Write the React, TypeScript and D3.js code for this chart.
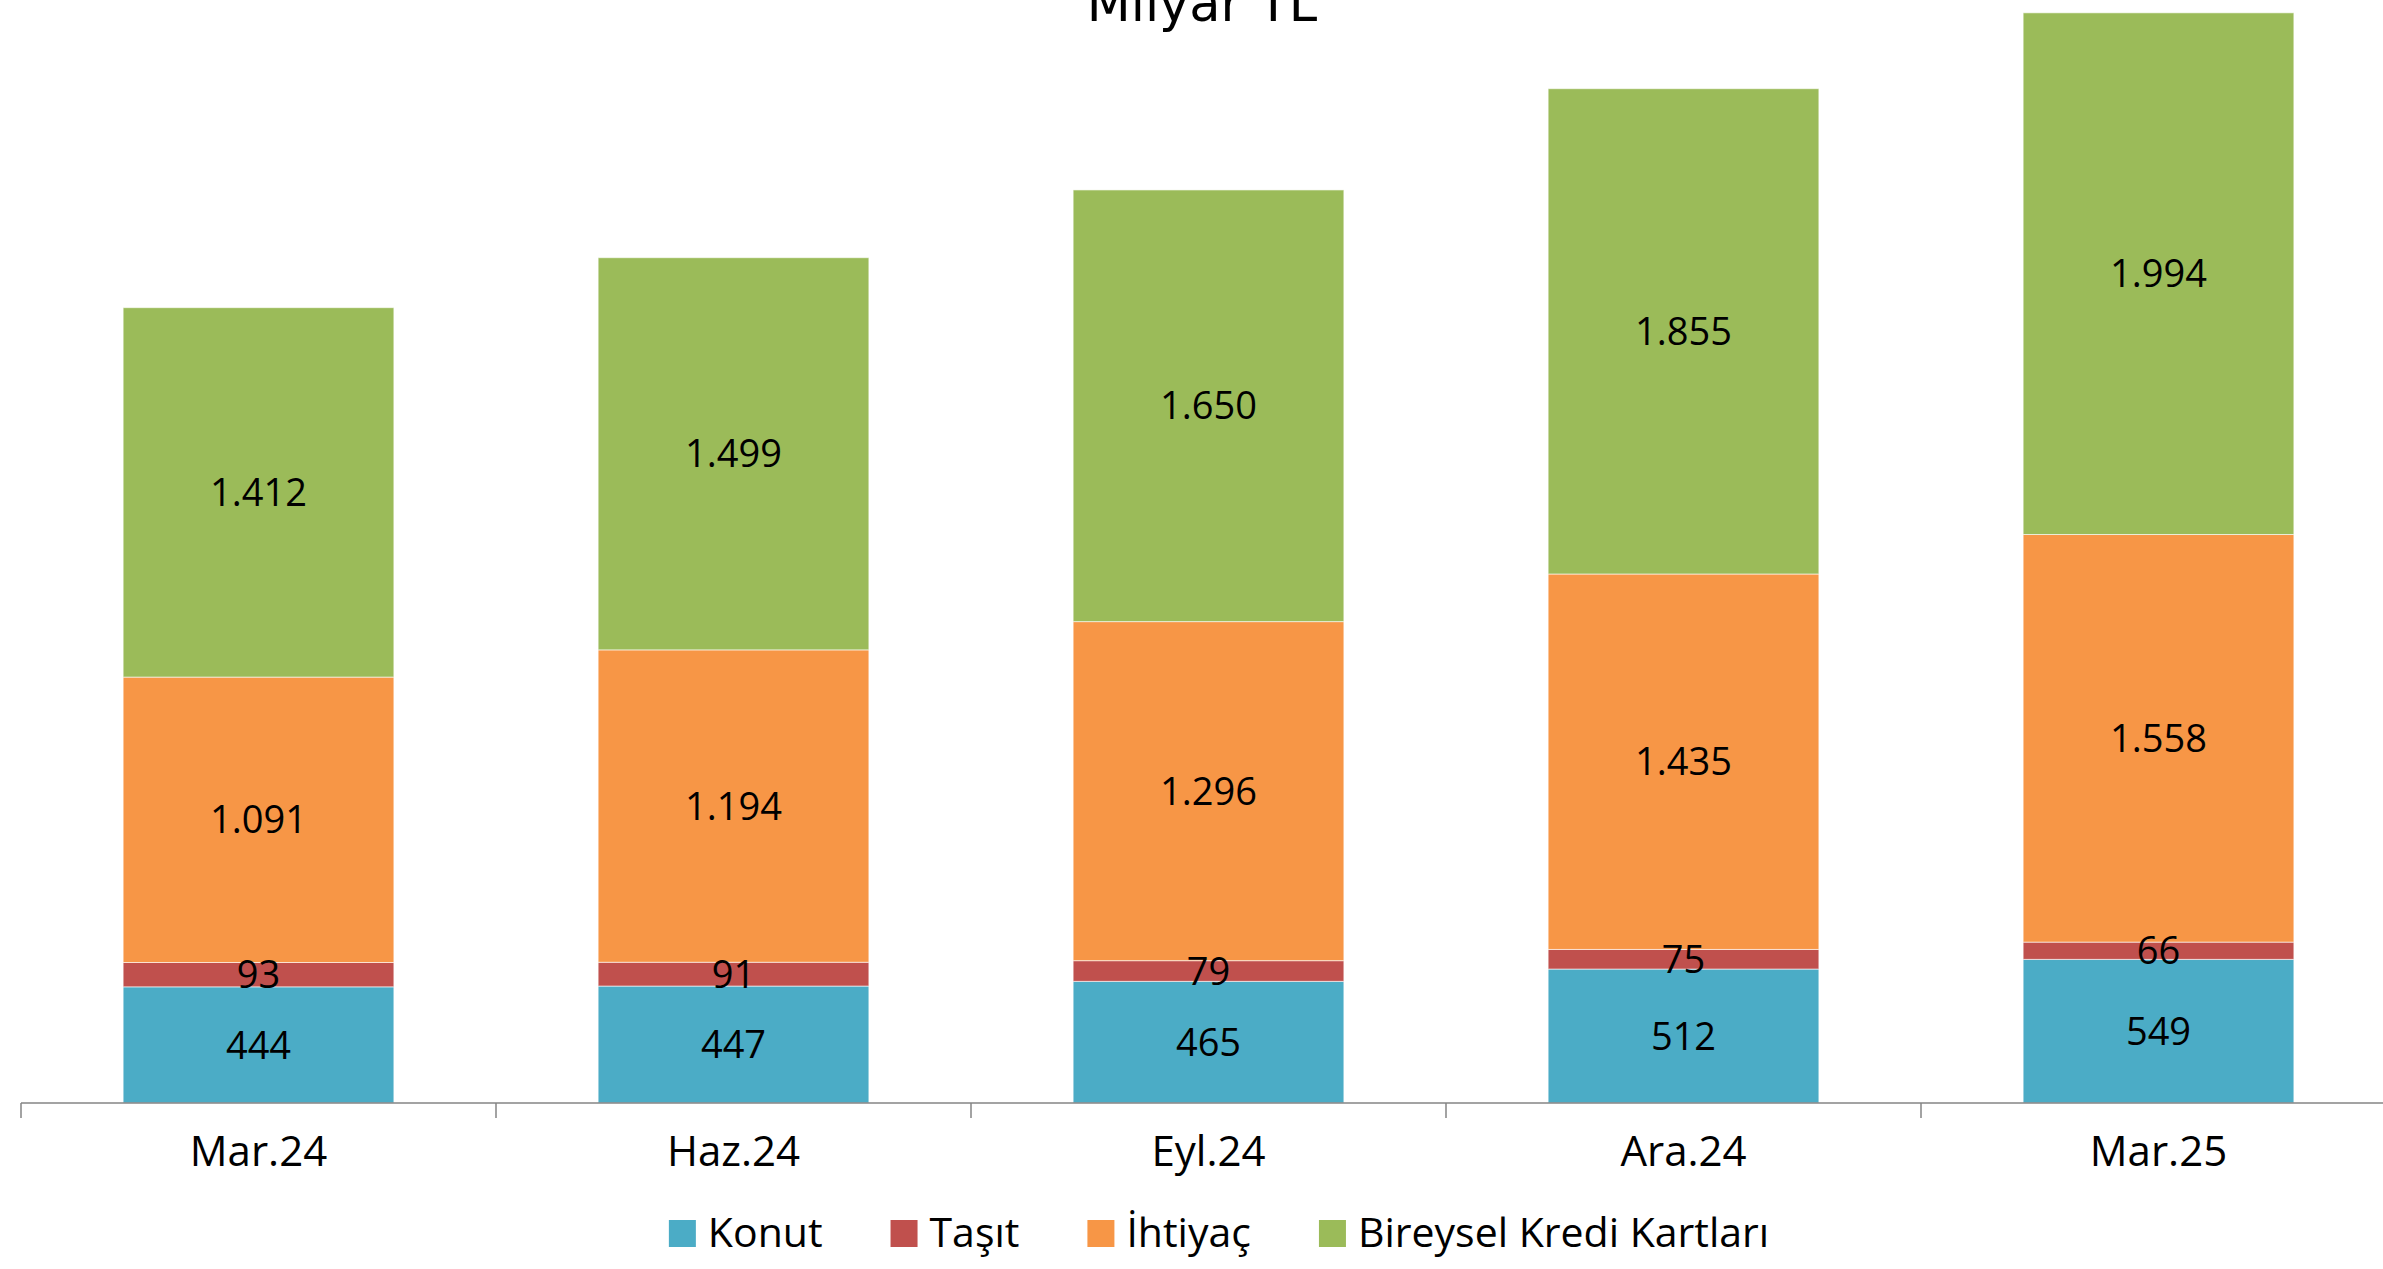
import React, { useEffect, useRef } from 'react';
import * as d3 from 'd3';

const categories = ['Mar.24', 'Haz.24', 'Eyl.24', 'Ara.24', 'Mar.25'];
const seriesNames = ['Konut', 'Taşıt', 'İhtiyaç', 'Bireysel Kredi Kartları'];
const konut = [444, 447, 465, 512, 549];
const tasit = [93, 91, 79, 75, 66];
const ihtiyac = [1091, 1194, 1296, 1435, 1558];
const krediKartlari = [1412, 1499, 1650, 1855, 1994];
const colors = ['#4BACC6', '#C0504D', '#F79646', '#9BBB59'];
const title = 'Milyar TL';

const WIDTH = 2383;
const HEIGHT = 1269;
const FONT = '"Open Sans", "Liberation Sans", sans-serif';

const trLocale = d3.formatLocale({ decimal: ',', thousands: '.', grouping: [3], currency: ['', ' TL'] });
const fmt = trLocale.format(',d');

export default function App() {
  const svgRef = useRef<SVGSVGElement>(null);

  useEffect(() => {
    if (!svgRef.current) return;
    const svg = d3.select(svgRef.current);
    svg.selectAll('*').remove();

    const rows = categories.map((c, i) => ({
      category: c,
      Konut: konut[i],
      'Taşıt': tasit[i],
      'İhtiyaç': ihtiyac[i],
      'Bireysel Kredi Kartları': krediKartlari[i],
    }));

    const stacked = d3.stack<any>().keys(seriesNames)(rows);

    // plot area (axis runs off the right edge, like the original)
    const x0 = 21;
    const step = 475;
    const axisY = 1103;

    const xScale = d3.scaleBand()
      .domain(categories)
      .range([x0, x0 + step * categories.length])
      .padding(0);

    const yScale = d3.scaleLinear()
      .domain([0, 4216])
      .range([axisY, 0]);

    const barWidth = xScale.bandwidth() * 0.57;

    // title (cut off at the top edge, as in the original)
    svg.append('text')
      .attr('x', 1202)
      .attr('y', 21)
      .attr('text-anchor', 'middle')
      .attr('font-family', '"DejaVu Sans", sans-serif')
      .attr('font-size', 51)
      .attr('fill', '#000')
      .text(title);

    const g = svg.append('g');

    // bars
    stacked.forEach((layer, si) => {
      const lg = g.append('g').attr('class', 'series');
      layer.forEach((d: any, i: number) => {
        const cx = xScale(categories[i])! + xScale.bandwidth() / 2;
        const y1 = yScale(d[1]);
        const y0 = yScale(d[0]);
        lg.append('rect')
          .attr('x', cx - barWidth / 2)
          .attr('y', y1)
          .attr('width', barWidth)
          .attr('height', y0 - y1)
          .attr('fill', colors[si])
          .attr('stroke', '#ffffff')
          .attr('stroke-opacity', 0.6)
          .attr('stroke-width', 1);
      });
    });

    // data labels
    stacked.forEach((layer) => {
      layer.forEach((d: any, i: number) => {
        const cx = xScale(categories[i])! + xScale.bandwidth() / 2;
        const cy = (yScale(d[0]) + yScale(d[1])) / 2;
        g.append('text')
          .attr('x', cx)
          .attr('y', cy)
          .attr('dy', '0.36em')
          .attr('text-anchor', 'middle')
          .attr('font-family', FONT)
          .attr('font-size', 38)
          .attr('fill', '#000')
          .text(fmt(d[1] - d[0]));
      });
    });

    // x axis
    const axis = svg.append('g');
    const [r0, r1] = xScale.range();
    axis.append('line')
      .attr('x1', r0).attr('x2', r1)
      .attr('y1', axisY).attr('y2', axisY)
      .attr('stroke', '#858585')
      .attr('stroke-width', 1.5);

    const tickPositions = categories.map(c => xScale(c)!).concat([r1]);
    tickPositions.forEach(tx => {
      axis.append('line')
        .attr('x1', tx).attr('x2', tx)
        .attr('y1', axisY).attr('y2', axisY + 15)
        .attr('stroke', '#858585')
        .attr('stroke-width', 1.5);
    });

    categories.forEach(c => {
      axis.append('text')
        .attr('x', xScale(c)! + xScale.bandwidth() / 2)
        .attr('y', 1166)
        .attr('text-anchor', 'middle')
        .attr('font-family', FONT)
        .attr('font-size', 42)
        .attr('fill', '#000')
        .text(c);
    });

    // legend
    const legend = svg.append('g');
    const swatch = 27;
    const gapText = 12;
    const gapItem = 68;
    let cursor = 0;
    seriesNames.forEach((name, i) => {
      const item = legend.append('g');
      item.append('rect')
        .attr('x', 0).attr('y', -swatch)
        .attr('width', swatch).attr('height', swatch)
        .attr('fill', colors[i]);
      const t = item.append('text')
        .attr('x', swatch + gapText)
        .attr('y', 0)
        .attr('font-family', FONT)
        .attr('font-size', 41)
        .attr('fill', '#000')
        .text(name);
      const w = (t.node() as SVGTextElement).getComputedTextLength();
      item.attr('transform', `translate(${cursor},0)`);
      cursor += swatch + gapText + w + gapItem;
    });
    const legendWidth = cursor - gapItem;
    legend.attr('transform', `translate(${1219 - legendWidth / 2},1247)`);
  }, []);

  return (
    <svg
      ref={svgRef}
      width={WIDTH}
      height={HEIGHT}
      style={{ position: 'absolute', left: 0, top: 0, background: '#fff' }}
    />
  );
}
